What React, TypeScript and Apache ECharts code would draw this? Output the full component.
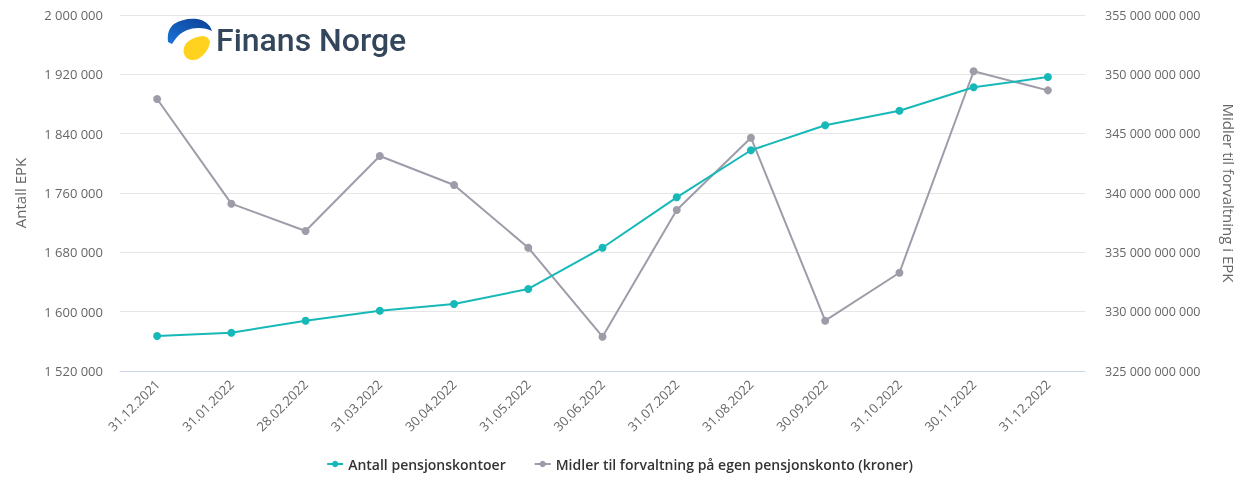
import React, { useEffect, useRef } from "react";
import * as echarts from "echarts";

const categories = [
  "31.12.2021", "31.01.2022", "28.02.2022", "31.03.2022", "30.04.2022", "31.05.2022",
  "30.06.2022", "31.07.2022", "31.08.2022", "30.09.2022", "31.10.2022", "30.11.2022", "31.12.2022",
];
const antallKontoer = [
  1567200, 1571600, 1587800, 1601300, 1610300, 1630600, 1686200,
  1754200, 1817600, 1851300, 1871000, 1902500, 1916400,
];
const midler = [
  347.92e9, 339.1e9, 336.8e9, 343.12e9, 340.67e9, 335.39e9, 327.89e9,
  338.57e9, 344.66e9, 329.24e9, 333.28e9, 350.26e9, 348.65e9,
];
const seriesNames = ["Antall pensjonskontoer", "Midler til forvaltning på egen pensjonskonto (kroner)"];
const leftAxisName = "Antall EPK";
const rightAxisName = "Midler til forvaltning i EPK";
const logoText = "Finans Norge";

const fmt = (v: number) => Math.round(v).toString().replace(/\B(?=(\d{3})+(?!\d))/g, " ");

const blueD =
  "M168,42 C167,34 169,28 174,24 C180,20 189,18 197,19 C204,20 210,24 212,31 C208,29 204,28 198,28 C190,28 184,31 179,35 C176,38 174,41 172,44 Z";
const yellowD =
  "M185,45 C188,40 195,37 202,36 C206,36 209,38 210,42 C209,48 205,55 198,59 C193,61 187,60 185,56 C183,53 183,49 185,45 Z";

let registered = false;
function registerLogo() {
  if (registered) return;
  registered = true;
  echarts.graphic.registerShape("logoBlue", echarts.graphic.extendPath(blueD, {}) as any);
  echarts.graphic.registerShape("logoYellow", echarts.graphic.extendPath(yellowD, {}) as any);
}

export default function App() {
  const ref = useRef<HTMLDivElement>(null);
  useEffect(() => {
    if (!ref.current) return;
    registerLogo();
    const chart = echarts.init(ref.current, null, { renderer: "svg" });
    const teal = "#17b8b8";
    const gray = "#9d9ca8";
    const font = "Open Sans";
    chart.setOption({
      animation: false,
      textStyle: { fontFamily: font },
      color: [teal, gray],
      grid: { left: 120, right: 154, top: 15, bottom: 107, containLabel: false, outerBoundsMode: "none" },
      legend: {
        bottom: 2,
        left: "center",
        itemWidth: 16,
        itemHeight: 8,
        itemGap: 28,
        textStyle: { fontFamily: font, fontSize: 14, color: "#333", fontWeight: 600 },
        data: seriesNames,
      },
      xAxis: {
        type: "category",
        data: categories,
        boundaryGap: true,
        axisLine: { lineStyle: { color: "#ccd6eb" } },
        axisTick: { show: false },
        axisLabel: { rotate: 45, margin: 11, color: "#666", fontSize: 13, fontFamily: font, interval: 0 },
      },
      yAxis: [
        {
          type: "value",
          min: 1520000,
          max: 2000000,
          interval: 80000,
          name: leftAxisName,
          nameLocation: "middle",
          nameGap: 93,
          nameTextStyle: { color: "#666", fontSize: 15, fontFamily: font },
          axisLabel: { color: "#666", fontSize: 13, margin: 17, fontFamily: font, formatter: (v: number) => fmt(v) },
          splitLine: { lineStyle: { color: "#e6e6e6" } },
          axisLine: { show: false },
          axisTick: { show: false },
        },
        {
          type: "value",
          min: 325e9,
          max: 355e9,
          interval: 5e9,
          position: "right",
          name: rightAxisName,
          nameLocation: "middle",
          nameRotate: -90,
          nameGap: 136,
          nameTextStyle: { color: "#666", fontSize: 15, fontFamily: font },
          axisLabel: { color: "#666", fontSize: 12.5, margin: 20, fontFamily: font, formatter: (v: number) => fmt(v) },
          splitLine: { show: false },
          axisLine: { show: false },
          axisTick: { show: false },
        },
      ],
      series: [
        {
          name: seriesNames[0],
          type: "line",
          yAxisIndex: 0,
          data: antallKontoer,
          symbol: "circle",
          symbolSize: 8,
          lineStyle: { width: 2, color: teal },
          itemStyle: { color: teal },
          z: 3,
        },
        {
          name: seriesNames[1],
          type: "line",
          yAxisIndex: 1,
          data: midler,
          symbol: "circle",
          symbolSize: 8,
          lineStyle: { width: 2, color: gray },
          itemStyle: { color: gray },
          z: 2,
        },
      ],
      graphic: [
        {
          type: "logoBlue",
          x: 0,
          y: 0,
          z: 10,
          style: {
            fill: new echarts.graphic.LinearGradient(0, 1, 1, 0, [
              { offset: 0, color: "#1b73d6" },
              { offset: 1, color: "#0b3f94" },
            ]),
          },
        },
        { type: "logoYellow", x: 0, y: 0, z: 10, style: { fill: "#ffd21f" } },
        {
          type: "text",
          x: 216,
          y: 24,
          z: 10,
          style: {
            text: logoText,
            fill: "#34465c",
            font: "500 32px Roboto",
          },
        },
      ],
    });
    return () => chart.dispose();
  }, []);
  return <div ref={ref} style={{ position: "fixed", left: 0, top: 0, width: 1239, height: 478 }} />;
}
